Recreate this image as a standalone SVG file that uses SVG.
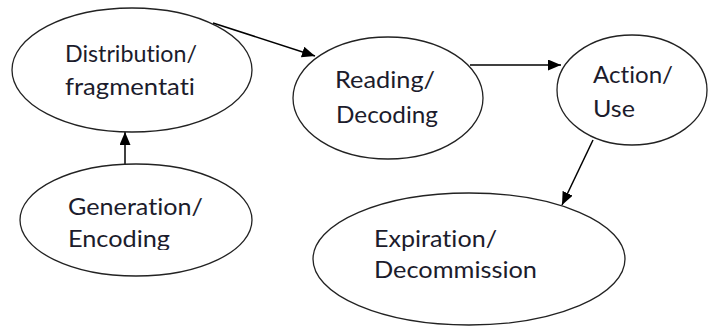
<svg xmlns="http://www.w3.org/2000/svg" width="708" height="327" viewBox="0 0 708 327">
<style>
.node ellipse{fill:#fff;stroke:#222;stroke-width:1.3}
.node text{font-family:Lato,"Open Sans",sans-serif;font-size:24px;fill:#1c1c2c;font-variant-ligatures:none;font-feature-settings:"liga" 0}
.edge{stroke:#000;stroke-width:1.5;fill:none;marker-end:url(#ah)}
</style>
<defs>
<marker id="ah" markerUnits="userSpaceOnUse" markerWidth="14" markerHeight="12" refX="13" refY="5.5" orient="auto">
<path d="M0,0 L13,5.5 L0,11 z" fill="#000"/>
</marker>
<clipPath id="clipGen"><rect x="0" y="150" width="300" height="100"/></clipPath>
</defs>
<rect width="708" height="327" fill="#fff"/>
<g id="connectors">
<line class="edge" x1="213" y1="23" x2="315" y2="56"/>
<line class="edge" x1="470" y1="65" x2="561" y2="65"/>
<line class="edge" x1="593" y1="140" x2="562" y2="205"/>
<line class="edge" x1="125" y1="165" x2="125" y2="132"/>
</g>
<g id="distribution" class="node">
<ellipse cx="132" cy="70" rx="120" ry="62"/>
<text x="65" y="62" textLength="132" lengthAdjust="spacingAndGlyphs">Distribution/</text>
<text x="65" y="95" textLength="130" lengthAdjust="spacingAndGlyphs">fragmentati</text>
</g>
<g id="reading" class="node">
<ellipse cx="388" cy="98" rx="95" ry="61"/>
<text x="335" y="88" textLength="100" lengthAdjust="spacingAndGlyphs">Reading/</text>
<text x="336" y="123" textLength="102" lengthAdjust="spacingAndGlyphs">Decoding</text>
</g>
<g id="action" class="node">
<ellipse cx="632" cy="90" rx="75" ry="55"/>
<text x="593" y="83" textLength="80" lengthAdjust="spacingAndGlyphs">Action/</text>
<text x="593" y="117" textLength="42" lengthAdjust="spacingAndGlyphs">Use</text>
</g>
<g id="expiration" class="node">
<ellipse cx="469" cy="259" rx="156" ry="66"/>
<text x="374" y="247" textLength="123" lengthAdjust="spacingAndGlyphs">Expiration/</text>
<text x="374" y="278" textLength="163" lengthAdjust="spacingAndGlyphs">Decommission</text>
</g>
<g id="generation" class="node">
<ellipse cx="136" cy="220" rx="116" ry="56"/>
<g clip-path="url(#clipGen)">
<text x="68" y="215" textLength="135" lengthAdjust="spacingAndGlyphs">Generation/</text>
<text x="68" y="247" textLength="102" lengthAdjust="spacingAndGlyphs">Encoding</text>
</g>
</g>
</svg>
